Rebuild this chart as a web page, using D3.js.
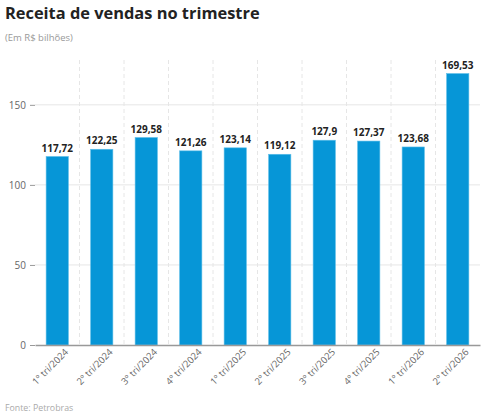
<!DOCTYPE html>
<html>
<head>
<meta charset="utf-8">
<script src="https://cdn.jsdelivr.net/npm/d3@7"></script>
<style>
  body { margin: 0; background: #fff; font-family: "Open Sans", sans-serif; }
</style>
</head>
<body>
<div id="chart"></div>
<script>
// data
var quarters = ["1º tri/2024", "2º tri/2024", "3º tri/2024", "4º tri/2024", "1º tri/2025",
  "2º tri/2025", "3º tri/2025", "4º tri/2025", "1º tri/2026", "2º tri/2026"];
var revenue = [117.72, 122.25, 129.58, 121.26, 123.14, 119.12, 127.9, 127.37, 123.68, 169.53];
var yTicks = [0, 50, 100, 150];

var svgWidth = 487;
var svgHeight = 418;
var margin = { top: 60, right: 7, bottom: 73, left: 35 };
var width = svgWidth - margin.left - margin.right;
var height = svgHeight - margin.top - margin.bottom;

var svg = d3.select("#chart").append("svg")
  .attr("width", svgWidth)
  .attr("height", svgHeight);

svg.append("text")
  .attr("x", 5).attr("y", 19)
  .style("font-size", "16.4px").style("font-weight", "700").attr("fill", "#222")
  .text("Receita de vendas no trimestre");

svg.append("text")
  .attr("x", 5).attr("y", 41)
  .style("font-size", "9.5px").attr("fill", "#999")
  .text("(Em R$ bilhões)");

svg.append("text")
  .attr("x", 5).attr("y", 411)
  .style("font-size", "8.8px").attr("fill", "#aaa")
  .text("Fonte: Petrobras");

var chartGroup = svg.append("g")
  .attr("transform", `translate(${margin.left}, ${margin.top})`);

var x = d3.scaleBand().domain(quarters).range([0, width]).paddingInner(0.5).paddingOuter(0.25);
var y = d3.scaleLinear().domain([0, 178]).range([height, 0]);

// horizontal grid
chartGroup.selectAll(".hgrid").data(yTicks.slice(1)).enter()
  .append("line")
  .attr("x1", 0).attr("x2", width)
  .attr("y1", d => y(d)).attr("y2", d => y(d))
  .attr("stroke", "#e6e6e6").attr("stroke-width", 1);

// vertical dashed grid between categories
var step = x.step();
chartGroup.selectAll(".vgrid").data(quarters.slice(1)).enter()
  .append("line")
  .attr("x1", d => x(d) - x.paddingInner() * step / 2)
  .attr("x2", d => x(d) - x.paddingInner() * step / 2)
  .attr("y1", 0).attr("y2", height)
  .attr("stroke", "#e6e6e6").attr("stroke-dasharray", "4,3");

chartGroup.selectAll(".bar").data(revenue).enter()
  .append("rect")
  .attr("x", (d, i) => x(quarters[i]))
  .attr("width", x.bandwidth())
  .attr("y", d => y(d))
  .attr("height", d => height - y(d))
  .attr("fill", "#0696d7")
  .attr("stroke", "#5bbde8").attr("stroke-width", 0.6);

chartGroup.selectAll(".val").data(revenue).enter()
  .append("text")
  .attr("x", (d, i) => x(quarters[i]) + x.bandwidth() / 2)
  .attr("y", d => y(d) - 5)
  .attr("text-anchor", "middle")
  .style("font-size", "10px").style("font-weight", "700").attr("fill", "#222")
  .text(d => String(d).replace(".", ","));

// y axis
var leftAxis = d3.axisLeft(y).tickValues(yTicks).tickSize(5).tickPadding(4);
var gy = chartGroup.append("g").call(leftAxis);
gy.select(".domain").remove();
gy.selectAll(".tick line").attr("stroke", "#999");
gy.selectAll("text").attr("fill", "#666").style("font-size", "10px").style("font-family", "Open Sans");

// x axis
var bottomAxis = d3.axisBottom(x).tickSize(0).tickPadding(8);
var gx = chartGroup.append("g")
  .attr("transform", `translate(0, ${height})`)
  .call(bottomAxis);
gx.select(".domain").attr("stroke", "#999").attr("stroke-width", 1.5);
gx.selectAll("text")
  .attr("fill", "#666").style("font-size", "9.5px").style("font-family", "Open Sans")
  .attr("text-anchor", "end")
  .attr("dx", "0.3em").attr("dy", "0.6em")
  .attr("transform", "rotate(-45)");
</script>
</body>
</html>
